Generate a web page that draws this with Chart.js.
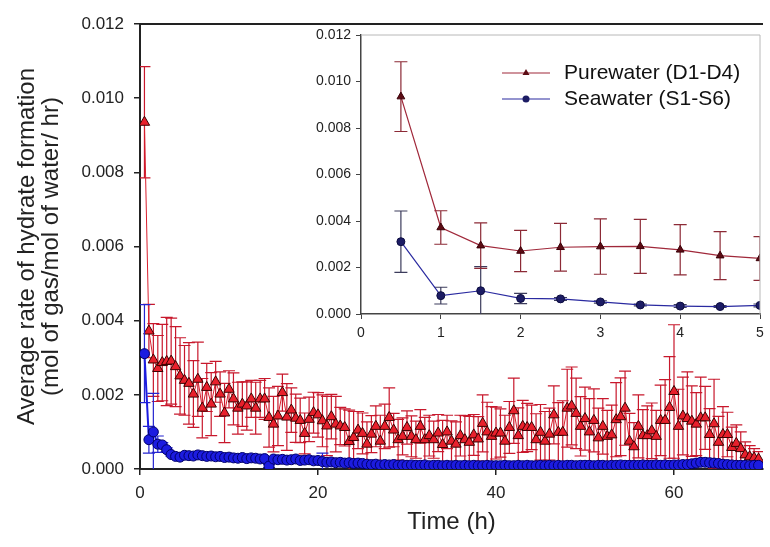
<!DOCTYPE html>
<html>
<head>
<meta charset="utf-8">
<title>Average rate of hydrate formation</title>
<script src="https://cdn.jsdelivr.net/npm/chart.js@4.4.1/dist/chart.umd.min.js"></script>
<style>
  html, body { margin:0; padding:0; background:#fff; }
  #wrap { position:relative; width:770px; height:547px; background:#fff; }
  #main { position:absolute; left:0; top:0; }
  #inset { position:absolute; left:290px; top:20px; }
</style>
</head>
<body>
<div id="wrap">
  <canvas id="main" width="770" height="547"></canvas>
  <canvas id="inset" width="480" height="330"></canvas>
</div>
<script>
// time (h), one reading every half hour
var hours = [
  0.5,1,1.5,2,2.5,3,3.5,4,4.5,5,
  5.5,6,6.5,7,7.5,8,8.5,9,9.5,10,
  10.5,11,11.5,12,12.5,13,13.5,14,14.5,15,
  15.5,16,16.5,17,17.5,18,18.5,19,19.5,20,
  20.5,21,21.5,22,22.5,23,23.5,24,24.5,25,
  25.5,26,26.5,27,27.5,28,28.5,29,29.5,30,
  30.5,31,31.5,32,32.5,33,33.5,34,34.5,35,
  35.5,36,36.5,37,37.5,38,38.5,39,39.5,40,
  40.5,41,41.5,42,42.5,43,43.5,44,44.5,45,
  45.5,46,46.5,47,47.5,48,48.5,49,49.5,50,
  50.5,51,51.5,52,52.5,53,53.5,54,54.5,55,
  55.5,56,56.5,57,57.5,58,58.5,59,59.5,60,
  60.5,61,61.5,62,62.5,63,63.5,64,64.5,65,
  65.5,66,66.5,67,67.5,68,68.5,69,69.5
];

// Purewater (D1-D4)
var pureRate = [
  0.00935,0.00372,0.00294,0.00271,0.00287,0.00290,0.00291,0.00276,0.00251,0.00239,
  0.00231,0.00202,0.00242,0.00164,0.00220,0.00175,0.00235,0.00202,0.00151,0.00215,
  0.00189,0.00164,0.00175,0.00170,0.00189,0.00164,0.00189,0.00189,0.00139,0.00121,
  0.00143,0.00206,0.00140,0.00159,0.00137,0.00131,0.00096,0.00134,0.00152,0.00146,
  0.00130,0.00116,0.00141,0.00121,0.00116,0.00112,0.00074,0.00085,0.00105,0.00096,
  0.00067,0.00094,0.00115,0.00075,0.00115,0.00139,0.00105,0.00079,0.00088,0.00112,
  0.00088,0.00079,0.00115,0.00079,0.00090,0.00079,0.00097,0.00066,0.00100,0.00075,
  0.00067,0.00090,0.00079,0.00072,0.00092,0.00081,0.00123,0.00100,0.00088,0.00097,
  0.00097,0.00075,0.00112,0.00157,0.00090,0.00115,0.00112,0.00112,0.00079,0.00099,
  0.00075,0.00094,0.00146,0.00099,0.00099,0.00164,0.00170,0.00150,0.00115,0.00136,
  0.00100,0.00131,0.00084,0.00115,0.00088,0.00092,0.00133,0.00141,0.00164,0.00075,
  0.00060,0.00115,0.00090,0.00090,0.00103,0.00088,0.00131,0.00131,0.00166,0.00209,
  0.00115,0.00143,0.00136,0.00129,0.00121,0.00138,0.00138,0.00093,0.00122,0.00072,
  0.00093,0.00093,0.00058,0.00069,0.00055,0.00038,0.00033,0.00030,0.00027
];
var pureErr = [
  0.00150,0.00072,0.00098,0.00089,0.00103,0.00119,0.00116,0.00108,0.00103,0.00094,
  0.00110,0.00090,0.00100,0.00080,0.00065,0.00085,0.00055,0.00060,0.00080,0.00050,
  0.00070,0.00070,0.00060,0.00065,0.00050,0.00070,0.00050,0.00055,0.00080,0.00075,
  0.00080,0.00050,0.00090,0.00060,0.00065,0.00060,0.00055,0.00060,0.00055,0.00060,
  0.00070,0.00080,0.00060,0.00075,0.00050,0.00050,0.00085,0.00070,0.00050,0.00055,
  0.00060,0.00050,0.00055,0.00070,0.00060,0.00080,0.00045,0.00055,0.00050,0.00045,
  0.00055,0.00050,0.00045,0.00060,0.00055,0.00050,0.00050,0.00065,0.00045,0.00055,
  0.00060,0.00055,0.00065,0.00070,0.00055,0.00060,0.00077,0.00080,0.00080,0.00070,
  0.00065,0.00070,0.00070,0.00088,0.00075,0.00070,0.00065,0.00060,0.00070,0.00075,
  0.00080,0.00070,0.00078,0.00080,0.00085,0.00105,0.00105,0.00095,0.00080,0.00085,
  0.00090,0.00085,0.00080,0.00075,0.00070,0.00080,0.00100,0.00105,0.00100,0.00075,
  0.00065,0.00085,0.00070,0.00080,0.00075,0.00070,0.00095,0.00110,0.00137,0.00180,
  0.00100,0.00105,0.00126,0.00095,0.00085,0.00110,0.00085,0.00070,0.00120,0.00070,
  0.00075,0.00060,0.00055,0.00050,0.00045,0.00035,0.00030,0.00025,0.00020
];

// Seawater (S1-S6)
var seaRate = [
  0.00311,0.00079,0.00100,0.00067,0.00065,0.00052,0.00039,0.00034,0.00032,0.00037,
  0.00036,0.00035,0.00038,0.00036,0.00034,0.00035,0.00033,0.00034,0.00031,0.00032,
  0.00030,0.00029,0.00031,0.00028,0.00030,0.00029,0.00027,0.00028,0.00008,0.00027,
  0.00025,0.00026,0.00024,0.00025,0.00027,0.00023,0.00024,0.00025,0.00022,0.00023,
  0.00020,0.00018,0.00019,0.00017,0.00018,0.00016,0.00017,0.00015,0.00016,0.00015,
  0.00013,0.00012,0.00013,0.00011,0.00012,0.00011,0.00012,0.00010,0.00011,0.00010,
  0.00011,0.00010,0.00010,0.00011,0.00009,0.00010,0.00010,0.00009,0.00010,0.00009,
  0.00010,0.00009,0.00010,0.00009,0.00010,0.00009,0.00009,0.00010,0.00009,0.00009,
  0.00009,0.00010,0.00009,0.00009,0.00010,0.00009,0.00010,0.00009,0.00009,0.00010,
  0.00009,0.00010,0.00009,0.00010,0.00009,0.00010,0.00010,0.00009,0.00010,0.00010,
  0.00010,0.00009,0.00010,0.00010,0.00009,0.00010,0.00010,0.00011,0.00010,0.00010,
  0.00010,0.00010,0.00011,0.00010,0.00010,0.00011,0.00010,0.00011,0.00010,0.00011,
  0.00011,0.00012,0.00012,0.00014,0.00016,0.00018,0.00018,0.00017,0.00016,0.00015,
  0.00013,0.00012,0.00011,0.00010,0.00010,0.00010,0.00009,0.00010,0.00010
];
var seaErr = [
  0.00132,0.00036,0.00104,0.00022,0.00006,0.00005,0.00004,0.00006,0.00004,0.00006,
  0.00006,0.00005,0.00006,0.00005,0.00005,0.00006,0.00005,0.00005,0.00004,0.00005,
  0.00005,0.00004,0.00005,0.00004,0.00005,0.00004,0.00004,0.00005,0.00004,0.00004,
  0.00004,0.00005,0.00004,0.00004,0.00006,0.00004,0.00004,0.00005,0.00004,0.00004,
  0.00023,0.00004,0.00004,0.00003,0.00004,0.00003,0.00004,0.00003,0.00003,0.00003,
  0.00003,0.00003,0.00004,0.00003,0.00003,0.00003,0.00003,0.00004,0.00003,0.00003,
  0.00003,0.00003,0.00003,0.00004,0.00003,0.00003,0.00003,0.00003,0.00003,0.00003,
  0.00003,0.00004,0.00003,0.00003,0.00003,0.00003,0.00003,0.00003,0.00004,0.00003,
  0.00003,0.00003,0.00003,0.00003,0.00004,0.00003,0.00003,0.00003,0.00003,0.00003,
  0.00003,0.00003,0.00004,0.00003,0.00003,0.00003,0.00003,0.00004,0.00003,0.00003,
  0.00003,0.00003,0.00003,0.00003,0.00004,0.00003,0.00003,0.00003,0.00003,0.00003,
  0.00003,0.00004,0.00003,0.00003,0.00003,0.00003,0.00003,0.00004,0.00003,0.00003,
  0.00004,0.00003,0.00004,0.00004,0.00005,0.00004,0.00005,0.00004,0.00004,0.00004,
  0.00003,0.00003,0.00003,0.00003,0.00003,0.00003,0.00003,0.00003,0.00003
];

// inset shows the first five hours
var insetCount = 10;

var mainXTicks = [0, 20, 40, 60];
var insetXTicks = [0, 1, 2, 3, 4, 5];
var rateTicks = [0, 0.002, 0.004, 0.006, 0.008, 0.010, 0.012];

var FONT = '"Liberation Sans", Arial, Helvetica, sans-serif';
Chart.defaults.font.family = FONT;
Chart.defaults.color = '#222';

var toPoints = function(vals, n) {
  var out = [];
  for (var i = 0; i < (n || vals.length); i++) out.push({ x: hours[i], y: vals[i] });
  return out;
};

// error bars go under the markers of their own series
var errorBars = {
  id: 'errorBars',
  beforeDatasetDraw: function(chart, args) {
    var ds = chart.data.datasets[args.index];
    if (!ds.errors) return;
    var ctx = chart.ctx, a = chart.chartArea, ys = chart.scales.y;
    var half = ds.capWidth / 2;
    ctx.save();
    ctx.beginPath();
    ctx.rect(a.left, a.top, a.right - a.left, a.bottom - a.top);
    ctx.clip();
    ctx.strokeStyle = ds.errorColor;
    ctx.lineWidth = ds.errorWidth;
    args.meta.data.forEach(function(pt, i) {
      var v = ds.data[i].y, e = ds.errors[i];
      var top = ys.getPixelForValue(v + e), bot = ys.getPixelForValue(v - e);
      ctx.beginPath();
      ctx.moveTo(pt.x, top); ctx.lineTo(pt.x, bot);
      ctx.moveTo(pt.x - half, top); ctx.lineTo(pt.x + half, top);
      ctx.moveTo(pt.x - half, bot); ctx.lineTo(pt.x + half, bot);
      ctx.stroke();
    });
    ctx.restore();
  }
};

var frameLines = {
  id: 'frameLines',
  afterDraw: function(chart, args, opts) {
    var ctx = chart.ctx, a = chart.chartArea;
    ctx.save();
    ctx.strokeStyle = opts.color;
    ctx.lineWidth = opts.width;
    ctx.beginPath();
    ctx.moveTo(a.left, a.top);
    ctx.lineTo(a.right, a.top);
    if (opts.right) ctx.lineTo(a.right, a.bottom);
    ctx.stroke();
    ctx.restore();
  }
};

var insetLegend = {
  id: 'insetLegend',
  afterDraw: function(chart) {
    var ctx = chart.ctx, a = chart.chartArea;
    ctx.save();
    chart.data.datasets.forEach(function(ds, i) {
      var y = a.top + 38 + i * 26, x0 = a.right - 258, x1 = a.right - 210, xm = (x0 + x1) / 2;
      ctx.strokeStyle = ds.borderColor;
      ctx.lineWidth = 1.2;
      ctx.beginPath(); ctx.moveTo(x0, y); ctx.lineTo(x1, y); ctx.stroke();
      ctx.fillStyle = ds.pointBackgroundColor;
      ctx.beginPath();
      if (ds.pointStyle == 'triangle') {
        ctx.moveTo(xm, y - 4); ctx.lineTo(xm + 3.5, y + 2); ctx.lineTo(xm - 3.5, y + 2);
        ctx.closePath();
      } else {
        ctx.arc(xm, y, 3.5, 0, Math.PI * 2);
      }
      ctx.fill();
      ctx.fillStyle = '#111';
      ctx.font = '21px ' + FONT;
      ctx.textBaseline = 'middle';
      ctx.fillText(ds.label, x1 + 14, y);
    });
    ctx.restore();
  }
};

var fmtRate = function(v) { return v.toFixed(3); };

var mainChart = new Chart(document.getElementById('main').getContext('2d'), {
  type: 'scatter',
  data: {
    datasets: [{
      label: 'Purewater (D1-D4)',
      data: toPoints(pureRate),
      errors: pureErr,
      errorColor: '#c8182c', errorWidth: 1.2, capWidth: 12,
      showLine: true,
      borderColor: '#d81e2c', borderWidth: 1,
      pointStyle: 'triangle', pointRadius: 6,
      pointBackgroundColor: '#e8202c', pointBorderColor: '#3c0000', pointBorderWidth: 1,
      order: 2
    }, {
      label: 'Seawater (S1-S6)',
      data: toPoints(seaRate),
      errors: seaErr,
      errorColor: '#2424d0', errorWidth: 1.2, capWidth: 12,
      showLine: true,
      borderColor: '#1c1ce0', borderWidth: 2,
      pointStyle: 'circle', pointRadius: 5,
      pointBackgroundColor: '#1c1ce0', pointBorderColor: '#00006a', pointBorderWidth: 1,
      order: 1
    }]
  },
  options: {
    responsive: false, animation: false, events: [],
    layout: { padding: { top: 24, left: 0, right: 0, bottom: 0 } },
    plugins: {
      legend: { display: false }, tooltip: { enabled: false },
      frameLines: { color: '#222', width: 2, right: false }
    },
    scales: {
      x: {
        type: 'linear', min: 0, max: 70,
        afterBuildTicks: function(s) { s.ticks = mainXTicks.map(function(v) { return { value: v }; }); },
        ticks: { font: { size: 17 }, color: '#222', padding: 8 },
        grid: { drawOnChartArea: false, tickLength: 6, color: '#222', lineWidth: 1.5 },
        border: { color: '#222', width: 2 },
        title: { display: true, text: 'Time (h)', font: { size: 24 }, color: '#222', padding: { top: 0, bottom: 10 } },
        afterFit: function(s) { s.height = 78; }
      },
      y: {
        min: 0, max: 0.012,
        afterBuildTicks: function(s) { s.ticks = rateTicks.map(function(v) { return { value: v }; }); },
        ticks: { font: { size: 17 }, color: '#222', padding: 10, callback: fmtRate },
        grid: { drawOnChartArea: false, tickLength: 6, color: '#222', lineWidth: 1.5 },
        border: { color: '#222', width: 2 },
        title: {
          display: true,
          text: ['Average rate of hydrate formation', '(mol of gas/mol of water/ hr)'],
          font: { size: 24, lineHeight: 1.0 }, color: '#222', padding: { top: 15, bottom: 0 }
        },
        afterFit: function(s) { s.width = 140; }
      }
    }
  },
  plugins: [errorBars, frameLines]
});

var insetChart = new Chart(document.getElementById('inset').getContext('2d'), {
  type: 'scatter',
  data: {
    datasets: [{
      label: 'Purewater (D1-D4)',
      data: toPoints(pureRate, insetCount),
      errors: pureErr.slice(0, insetCount),
      errorColor: '#8c2a36', errorWidth: 1.2, capWidth: 13,
      showLine: true,
      borderColor: '#a0283a', borderWidth: 1.2,
      pointStyle: 'triangle', pointRadius: 4.5,
      pointBackgroundColor: '#5c0c14', pointBorderColor: '#3a0008', pointBorderWidth: 1
    }, {
      label: 'Seawater (S1-S6)',
      data: toPoints(seaRate, insetCount),
      errors: seaErr.slice(0, insetCount),
      errorColor: '#3c3c5c', errorWidth: 1.2, capWidth: 13,
      showLine: true,
      borderColor: '#2a2aa0', borderWidth: 1.2,
      pointStyle: 'circle', pointRadius: 4,
      pointBackgroundColor: '#1c1c64', pointBorderColor: '#0c0c40', pointBorderWidth: 1
    }]
  },
  options: {
    responsive: false, animation: false, events: [],
    layout: { padding: { top: 15, left: 0, right: 10, bottom: 0 } },
    plugins: {
      legend: { display: false }, tooltip: { enabled: false },
      frameLines: { color: '#b8b8b8', width: 1, right: true }
    },
    scales: {
      x: {
        type: 'linear', min: 0, max: 5,
        afterBuildTicks: function(s) { s.ticks = insetXTicks.map(function(v) { return { value: v }; }); },
        ticks: { font: { size: 14 }, color: '#222', padding: 6 },
        grid: { drawOnChartArea: false, tickLength: 5, color: '#444' },
        border: { color: '#444', width: 1.5 },
        afterFit: function(s) { s.height = 36; }
      },
      y: {
        min: 0, max: 0.012,
        afterBuildTicks: function(s) { s.ticks = rateTicks.map(function(v) { return { value: v }; }); },
        ticks: { font: { size: 14 }, color: '#222', padding: 5, callback: fmtRate },
        grid: { drawOnChartArea: false, tickLength: 5, color: '#444' },
        border: { color: '#444', width: 1.5 },
        afterFit: function(s) { s.width = 71; }
      }
    }
  },
  plugins: [errorBars, frameLines, insetLegend]
});
</script>
</body>
</html>
